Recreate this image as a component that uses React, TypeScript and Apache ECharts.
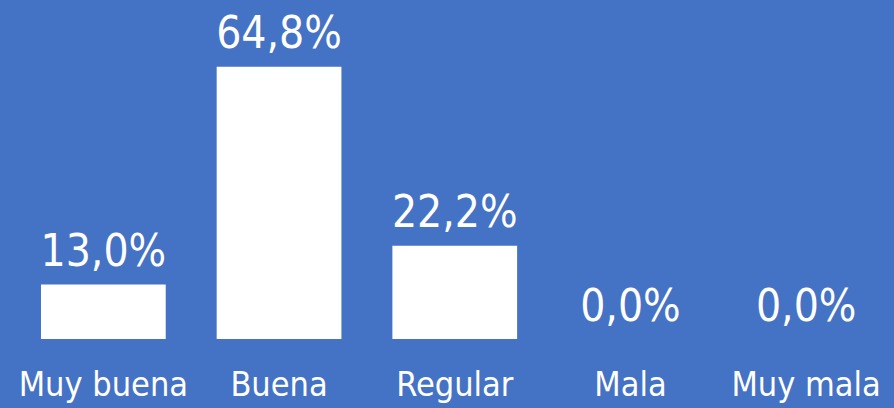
import React, { useEffect, useRef } from "react";
import * as echarts from "echarts";

const categories = ["Muy buena", "Buena", "Regular", "Mala", "Muy mala"];
const values = [13.0, 64.8, 22.2, 0.0, 0.0];

const FONT = "'DejaVu Sans Condensed', 'DejaVu Sans', sans-serif";

export default function App() {
  const ref = useRef<HTMLDivElement>(null);
  useEffect(() => {
    document.body.style.margin = "0";
    const chart = echarts.init(ref.current!, undefined, { renderer: "svg" });
    chart.setOption({
      animation: false,
      backgroundColor: "#4472C4",
      grid: { left: 15.5, width: 886, top: 3, bottom: 69, containLabel: false },
      xAxis: {
        type: "category",
        data: categories,
        axisLine: { show: false },
        axisTick: { show: false },
        axisLabel: {
          color: "#ffffff",
          fontFamily: FONT,
          fontSize: 34,
          margin: 28,
          interval: 0,
        },
      },
      yAxis: {
        type: "value",
        min: 0,
        max: 80,
        show: false,
        splitLine: { show: false },
      },
      series: [
        {
          type: "bar",
          data: values,
          barCategoryGap: "29%",
          itemStyle: { color: "#ffffff" },
          label: {
            show: true,
            position: "top",
            distance: 12,
            color: "#ffffff",
            fontFamily: FONT,
            fontSize: 44,
            formatter: (p: any) => p.value.toFixed(1).replace(".", ",") + "%",
          },
        },
      ],
    });
    return () => chart.dispose();
  }, []);
  return <div ref={ref} style={{ width: 894, height: 408 }} />;
}
